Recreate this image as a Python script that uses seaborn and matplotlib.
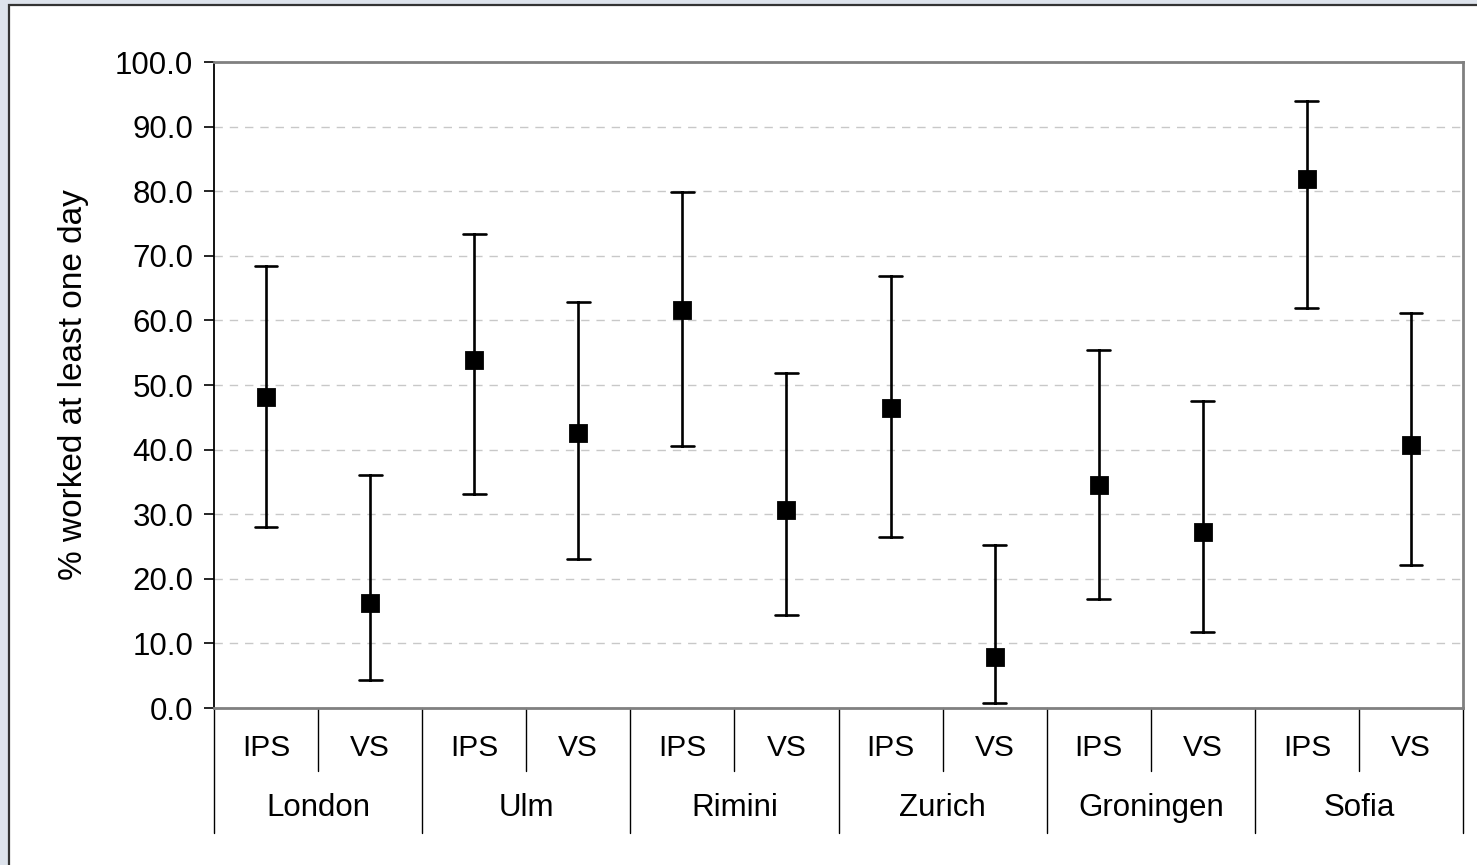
import matplotlib
matplotlib.use('Agg')
import numpy as np
import pandas as pd
import matplotlib.pyplot as plt
import seaborn as sns
from matplotlib.patches import Rectangle

sns.set_theme(style="white")
plt.rcParams['font.family'] = ['Liberation Sans', 'DejaVu Sans']
plt.rcParams['text.color'] = 'black'
plt.rcParams['axes.labelcolor'] = 'black'
plt.rcParams['ytick.color'] = 'black'

# ==========================================
# Data
# ==========================================
cities = ["London", "Ulm", "Rimini", "Zurich", "Groningen", "Sofia"]
groups = ["IPS", "VS"]

# point estimate, lower and upper bound, ordered city by city (IPS, VS)
estimate = [48.1, 16.3, 53.9, 42.6, 61.6, 30.6, 46.4, 7.9, 34.5, 27.2, 81.9, 40.7]
lower = [28.0, 4.3, 33.1, 23.1, 40.6, 14.4, 26.5, 0.8, 16.9, 11.8, 61.9, 22.1]
upper = [68.4, 36.1, 73.4, 62.8, 79.9, 51.9, 66.9, 25.2, 55.4, 47.5, 94.0, 61.1]

y_ticks = np.arange(0, 101, 10)

# long table: three rows per category (low / mid / high);
# median gives the point, min-max gives the bar
keys = [f"{c}|{g}" for c in cities for g in groups]
rows = []
for k, lo, mid, hi in zip(keys, lower, estimate, upper):
    for v in (lo, mid, hi):
        rows.append({"cat": k, "value": v})
df = pd.DataFrame(rows)

# ==========================================
# Figure
# ==========================================
fig = plt.figure(figsize=(14.77, 8.65), dpi=100)
fig.patch.set_facecolor('#dde3ec')
# white panel with dark left/top border
fig.patches.append(Rectangle((9 / 1477, -0.01), 1.02, 1 - 5 / 865 + 0.01,
                             transform=fig.transFigure, facecolor='white',
                             edgecolor='#333333', linewidth=1.6, zorder=-10))

ax = fig.add_axes([214 / 1477, 1 - 708 / 865, (1463 - 214) / 1477, (708 - 62) / 865])

sns.pointplot(data=df, x="cat", y="value", order=keys,
              estimator="median", errorbar=lambda x: (x.min(), x.max()),
              linestyle="none", marker="s", markersize=12, color="black",
              capsize=0.22, err_kws={"linewidth": 1.9}, ax=ax)

ax.set_xlim(-0.5, len(keys) - 0.5)
ax.set_ylim(0, 100)
ax.set_yticks(y_ticks)
ax.set_yticklabels([f"{t:.1f}" for t in y_ticks], fontsize=22.5)
ax.tick_params(axis='y', length=7, width=1.2, color='black', left=True, pad=8)
ax.yaxis.grid(True, linestyle=(0, (6, 5)), color='#c8c8c8', linewidth=1.0)
ax.set_axisbelow(True)

ax.set_xticks([])
ax.set_xlabel("")
ax.set_ylabel("% worked at least one day", fontsize=24)
ax.yaxis.set_label_coords(-0.100, 0.5)

ax.spines['left'].set_color('black')
ax.spines['left'].set_linewidth(1.3)
for s in ('top', 'right', 'bottom'):
    ax.spines[s].set_color('#808080')
    ax.spines[s].set_linewidth(2)

# two-level category axis
trans = ax.get_xaxis_transform()
row1 = -40 / 646   # IPS / VS
row2 = -100 / 646  # city names
short_end = -63 / 646
long_end = -125 / 646
for i, k in enumerate(keys):
    ax.text(i, row1, k.split("|")[1], transform=trans, ha='center', va='center', fontsize=21.5)
for j, c in enumerate(cities):
    ax.text(2 * j + 0.5, row2, c, transform=trans, ha='center', va='center', fontsize=22.5)
for b in range(len(keys) + 1):
    x = b - 0.5
    end = long_end if b % 2 == 0 else short_end
    ax.plot([x, x], [0, end], transform=trans, color='black', linewidth=1.0, clip_on=False)

fig.savefig("out.png", dpi=100, facecolor=fig.get_facecolor())
